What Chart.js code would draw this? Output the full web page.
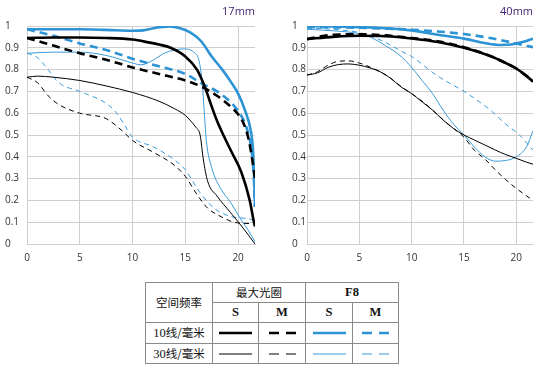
<!DOCTYPE html>
<html>
<head>
<meta charset="utf-8">
<script src="https://cdn.jsdelivr.net/npm/chart.js@4.4.0/dist/chart.umd.min.js"></script>
<style>
body{margin:0;width:540px;height:368px;background:#fff;position:relative;overflow:hidden}
canvas{position:absolute;top:0}
.ttl{position:absolute;top:3px;width:60px;text-align:right;font:11px "Open Sans",sans-serif;color:#3b1d6e}
table{position:absolute;left:145px;top:282px;border-collapse:collapse;font-family:"Liberation Serif","Noto Sans CJK SC",serif;font-size:11px;color:#111}
td{border:1px solid #8a8a8a;height:19px;padding:0;text-align:center;line-height:13px}
td.h{font-family:"Noto Sans CJK SC",sans-serif;font-size:11.5px}
td.b{font-weight:bold;font-size:12.5px}
svg{display:block;margin:0 auto}
</style>
</head>
<body>
<canvas id="c17" width="270" height="270" style="left:0"></canvas>
<canvas id="c40" width="270" height="270" style="left:270px"></canvas>
<div class="ttl" style="left:195px">17mm</div>
<div class="ttl" style="left:473px">40mm</div>

<table>
<tr><td class="h" rowspan="2" style="width:66px">空间频率</td><td class="h" colspan="2">最大光圈</td><td class="b" colspan="2">F8</td></tr>
<tr><td class="b" style="width:45px">S</td><td class="b" style="width:46px">M</td><td class="b" style="width:46px">S</td><td class="b" style="width:45px">M</td></tr>
<tr style="height:21px"><td class="h"><span style="font-family:'Liberation Serif';font-size:12.5px">10</span>线/毫米</td>
<td><svg width="33" height="4"><line x1="0" y1="2" x2="33" y2="2" stroke="#000" stroke-width="2.6"/></svg></td>
<td><svg width="27" height="4"><line x1="0" y1="2" x2="27" y2="2" stroke="#000" stroke-width="2.6" stroke-dasharray="10 7"/></svg></td>
<td><svg width="33" height="4"><line x1="0" y1="2" x2="33" y2="2" stroke="#2c93d4" stroke-width="2.6"/></svg></td>
<td><svg width="27" height="4"><line x1="0" y1="2" x2="27" y2="2" stroke="#2c93d4" stroke-width="2.6" stroke-dasharray="10 7"/></svg></td></tr>
<tr><td class="h"><span style="font-family:'Liberation Serif';font-size:12.5px">30</span>线/毫米</td>
<td><svg width="33" height="4"><line x1="0" y1="2" x2="33" y2="2" stroke="#000" stroke-width="1"/></svg></td>
<td><svg width="27" height="4"><line x1="0" y1="2" x2="27" y2="2" stroke="#000" stroke-width="1" stroke-dasharray="10 7"/></svg></td>
<td><svg width="33" height="4"><line x1="0" y1="2" x2="33" y2="2" stroke="#3a9ad9" stroke-width="1"/></svg></td>
<td><svg width="27" height="4"><line x1="0" y1="2" x2="27" y2="2" stroke="#3a9ad9" stroke-width="1" stroke-dasharray="10 7"/></svg></td></tr>
</table>

<script>
// ticks
const xTicks = [0, 5, 10, 15, 20];
const yTicks = [0, 0.1, 0.2, 0.3, 0.4, 0.5, 0.6, 0.7, 0.8, 0.9, 1];
const xMax = 21.6;

// 17mm  [image height mm, contrast]
const w17_maxS10 = [[0,0.945],[2.5,0.947],[5,0.947],[7.5,0.945],[10,0.938],[11.5,0.925],[12.5,0.915],[13.6,0.9],[15,0.86],[16.1,0.8],[16.6,0.75],[17,0.7],[17.5,0.63],[18,0.565],[18.5,0.51],[19.3,0.43],[20.3,0.33],[21.1,0.2],[21.5,0.1],[21.6,0.08]];
const w17_maxM10 = [[0,0.945],[2.5,0.91],[5,0.875],[7.5,0.845],[10,0.81],[12.5,0.78],[15,0.75],[16.6,0.72],[18,0.68],[19.3,0.63],[20,0.595],[20.5,0.555],[21,0.48],[21.3,0.4],[21.6,0.3]];
const w17_f8S10 = [[0,0.985],[2.5,0.985],[5,0.985],[7.5,0.982],[10,0.978],[11,0.98],[12,0.99],[13.5,0.998],[14.5,0.99],[15.5,0.97],[16.5,0.93],[17.5,0.86],[18.5,0.8],[19.3,0.745],[20,0.69],[20.6,0.62],[21.2,0.52],[21.4,0.44],[21.5,0.33],[21.6,0.17]];
const w17_f8M10 = [[0,0.985],[2.5,0.955],[5,0.92],[7.5,0.89],[10,0.85],[12.5,0.815],[15,0.78],[16.6,0.735],[18,0.7],[19.3,0.65],[20,0.61],[20.5,0.57],[21,0.5],[21.3,0.42],[21.5,0.3],[21.6,0.17]];
const w17_maxS30 = [[0,0.765],[1,0.77],[2.5,0.765],[5,0.75],[7.5,0.725],[10,0.695],[12.5,0.655],[14,0.62],[15,0.59],[15.5,0.565],[16,0.535],[16.4,0.5],[16.7,0.39],[17.1,0.29],[18,0.22],[19.3,0.143],[20.6,0.065],[21.6,0]];
const w17_maxM30 = [[0,0.765],[1,0.74],[2,0.68],[3,0.64],[5,0.6],[7.5,0.575],[9,0.52],[10,0.475],[12,0.42],[14,0.36],[15,0.31],[16.2,0.22],[17.1,0.165],[18.4,0.125],[19.6,0.1],[20.5,0.095],[21.6,0.093]];
const w17_f8S30 = [[0,0.875],[2.5,0.88],[5,0.88],[7.5,0.865],[9,0.845],[10,0.83],[10.8,0.822],[12,0.845],[13,0.875],[14,0.89],[14.8,0.895],[15.8,0.88],[16.3,0.84],[16.6,0.74],[16.8,0.6],[17,0.47],[17.5,0.35],[18.4,0.25],[19.3,0.19],[20.3,0.11],[21,0.06],[21.6,0.01]];
const w17_f8M30 = [[0,0.875],[1,0.855],[2,0.8],[3,0.74],[5,0.7],[7.5,0.645],[8.5,0.6],[9.5,0.525],[10,0.49],[12,0.445],[14,0.385],[15,0.34],[16.4,0.235],[17.7,0.165],[19.3,0.126],[20.3,0.12],[21.6,0.11]];

// 40mm
const w40_maxS10 = [[0,0.94],[2.5,0.95],[5,0.955],[7.5,0.953],[10,0.943],[12.5,0.927],[15,0.9],[17.5,0.862],[19,0.83],[20,0.805],[21,0.77],[21.6,0.745]];
const w40_maxM10 = [[0,0.94],[2.5,0.96],[5,0.962],[7.5,0.957],[10,0.945],[12.5,0.93],[15,0.903],[17.5,0.863],[19,0.83],[20,0.805],[21,0.77],[21.6,0.745]];
const w40_f8S10 = [[0,1.0],[2.5,0.998],[5,0.995],[7.5,0.99],[10,0.98],[12.5,0.96],[15,0.942],[17,0.922],[18.5,0.913],[19.5,0.915],[20.5,0.925],[21.6,0.942]];
const w40_f8M10 = [[0,0.995],[5,0.992],[10,0.983],[12.5,0.975],[15,0.963],[17.5,0.945],[20,0.92],[21.6,0.903]];
const w40_maxS30 = [[0,0.775],[1,0.785],[2,0.81],[3,0.823],[4,0.826],[5,0.82],[6,0.808],[7,0.79],[8,0.76],[9,0.72],[10,0.69],[11,0.652],[12,0.614],[13,0.569],[14,0.53],[15,0.5],[16,0.477],[17,0.454],[18,0.431],[19,0.41],[20,0.393],[21,0.375],[21.6,0.366]];
const w40_maxM30 = [[0,0.775],[1,0.79],[2,0.82],[3,0.838],[4,0.84],[5,0.83],[6,0.812],[7,0.79],[8,0.76],[9,0.722],[10,0.69],[11,0.655],[12,0.615],[13,0.57],[14,0.53],[15,0.49],[16,0.43],[17,0.39],[18,0.34],[19,0.295],[20,0.255],[21,0.22],[21.6,0.2]];
const w40_f8S30 = [[0,0.985],[2.5,0.978],[5,0.965],[6,0.95],[7.5,0.91],[9,0.86],[10,0.81],[11,0.75],[12,0.69],[13,0.615],[14,0.55],[15,0.5],[16,0.445],[17,0.4],[18,0.38],[19,0.383],[20,0.4],[21,0.447],[21.6,0.52]];
const w40_f8M30 = [[0,0.99],[2.5,0.985],[5,0.97],[6,0.955],[7.5,0.925],[9,0.885],[10,0.86],[12.5,0.77],[15,0.7],[17.5,0.615],[19,0.55],[20.3,0.5],[21.6,0.43]];

const black = '#000';
const blue = '#2c93d4';
const blueThin = '#3a9ad9';

function line(pts, color, w, dash) {
  return {
    data: pts.map(p => ({x: p[0], y: p[1]})),
    borderColor: color,
    borderWidth: w,
    borderDash: dash || [],
    pointRadius: 0,
    fill: false,
    cubicInterpolationMode: 'monotone'
  };
}

function opts(padLeft, yWidth, padRight) {
  return {
    responsive: false,
    animation: false,
    devicePixelRatio: 1,
    layout: {padding: {left: padLeft, right: padRight, top: 26, bottom: 0}},
    plugins: {legend: {display: false}, tooltip: {enabled: false}},
    scales: {
      x: {
        type: 'linear', min: 0, max: xMax,
        afterBuildTicks: s => { s.ticks = xTicks.map(v => ({value: v})); },
        afterFit: s => { s.height = 26; },
        grid: {color: '#cfcfcf', lineWidth: 1, drawTicks: false},
        border: {color: '#cfcfcf'},
        ticks: {padding: 8, color: '#333', font: {family: 'Open Sans', size: 10}, maxRotation: 0}
      },
      y: {
        min: 0, max: 1,
        afterBuildTicks: s => { s.ticks = yTicks.map(v => ({value: v})); },
        afterFit: s => { s.width = yWidth; },
        grid: {color: '#cfcfcf', lineWidth: 1, drawTicks: false},
        border: {color: '#cfcfcf'},
        ticks: {crossAlign: 'far', color: '#333', font: {family: 'Open Sans', size: 10},
          callback: v => String(Math.round(v * 10) / 10)}
      }
    }
  };
}

new Chart('c17', {
  type: 'line',
  data: {datasets: [
    line(w17_maxS10, black, 2.6),
    line(w17_maxM10, black, 2.6, [8, 5]),
    line(w17_f8S10, blue, 2.6),
    line(w17_f8M10, blue, 2.6, [8, 5]),
    line(w17_maxS30, black, 1),
    line(w17_maxM30, black, 1, [5, 4]),
    line(w17_f8S30, blueThin, 1),
    line(w17_f8M30, blueThin, 1, [5, 4])
  ]},
  options: opts(5, 22, 15)
});

new Chart('c40', {
  type: 'line',
  data: {datasets: [
    line(w40_maxS10, black, 2.6),
    line(w40_maxM10, black, 2.6, [8, 5]),
    line(w40_f8S10, blue, 2.6),
    line(w40_f8M10, blue, 2.6, [8, 5]),
    line(w40_maxS30, black, 1),
    line(w40_maxM30, black, 1, [5, 4]),
    line(w40_f8S30, blueThin, 1),
    line(w40_f8M30, blueThin, 1, [5, 4])
  ]},
  options: opts(22, 15, 7)
});
</script>
</body>
</html>
